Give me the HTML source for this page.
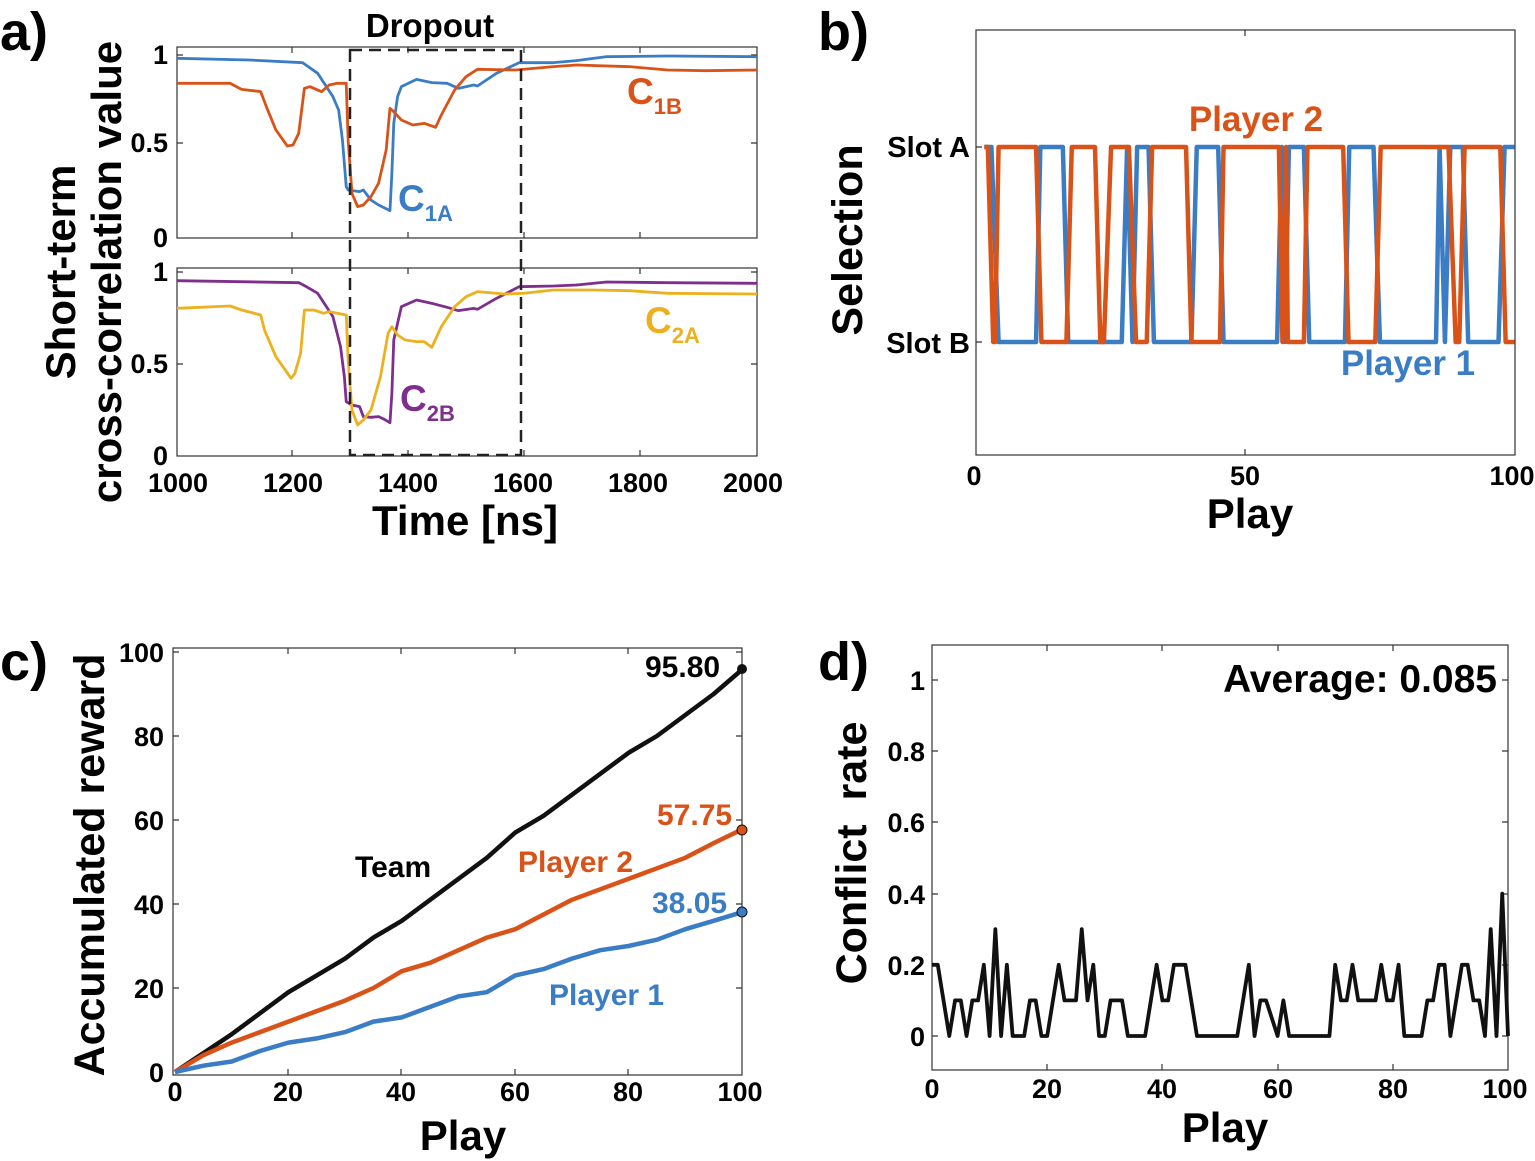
<!DOCTYPE html>
<html><head><meta charset="utf-8"><style>
html,body{margin:0;padding:0;background:#fff}
svg{display:block;font-family:"Liberation Sans",Arial,sans-serif;font-weight:bold}
.ln{fill:none;vector-effect:non-scaling-stroke;stroke-linejoin:round}
</style></head><body>
<svg width="1535" height="1161" viewBox="0 0 1535 1161" xmlns="http://www.w3.org/2000/svg">
<g font-size="54" fill="#000">
<text x="0" y="50">a)</text><text x="818" y="50">b)</text>
<text x="0" y="680">c)</text><text x="818" y="680">d)</text>
</g>

<!-- ===== Panel a ===== -->
<g stroke="#333" stroke-width="1.2" fill="none">
<rect x="177" y="47" width="580" height="191"/>
<rect x="177" y="268" width="580" height="188"/>
<path d="M292,238v-6M408,238v-6M524,238v-6M640,238v-6M292,47v6M408,47v6M524,47v6M640,47v6M177,143h6M757,143h-6M177,55h6M757,55h-6
M292,456v-6M408,456v-6M524,456v-6M640,456v-6M292,268v6M408,268v6M524,268v6M640,268v6M177,364h6M757,364h-6M177,272h6M757,272h-6"/>
</g>
<g transform="translate(173.2,40) scale(0.3803,0.3333)">
<polyline class="ln" stroke="#3A7DC4" stroke-width="2.8" points="10,55 200,60 340,68 380,100 420,170 435,210 445,300 455,440 460,450 490,455 500,450 520,480 540,495 570,512 575,400 580,250 590,170 600,140 640,118 680,128 720,130 750,145 790,135 800,138 850,100 910,68 1000,68 1060,62 1140,50 1300,48 1535,50"/>
<polyline class="ln" stroke="#D95319" stroke-width="2.8" points="10,130 150,130 180,148 230,155 245,200 270,270 300,318 315,315 330,280 345,145 360,140 390,155 410,135 430,130 455,130 460,300 470,460 485,500 500,495 520,470 540,430 560,330 570,205 580,215 600,240 630,255 660,250 690,262 705,225 740,150 770,110 800,88 900,90 1000,80 1060,75 1200,80 1300,90 1400,92 1535,90"/>
</g>
<g transform="translate(173.2,260) scale(0.3803,0.3333)">
<polyline class="ln" stroke="#7E2F8E" stroke-width="2.8" points="10,62 330,68 350,80 380,100 420,170 440,260 450,350 455,425 470,435 490,440 500,470 520,472 540,470 555,478 570,488 575,400 580,240 600,140 640,120 680,130 720,142 750,152 790,145 800,148 850,115 910,80 1000,78 1060,75 1140,66 1300,68 1535,70"/>
<polyline class="ln" stroke="#EDB120" stroke-width="2.8" points="10,145 150,138 180,150 230,165 240,210 270,290 310,355 320,340 335,280 345,150 370,150 395,160 410,155 455,165 460,300 470,450 485,495 500,480 520,450 545,350 565,220 575,200 590,225 610,240 640,245 660,245 680,262 705,200 740,140 770,110 800,95 870,102 920,100 1000,90 1100,90 1200,92 1300,100 1535,102"/>
</g>
<rect x="350" y="50" width="171" height="405" fill="none" stroke="#222" stroke-width="2.5" stroke-dasharray="12,7"/>
<text x="430" y="37" font-size="33" text-anchor="middle">Dropout</text>
<g font-size="27" text-anchor="end">
<text x="168" y="64">1</text><text x="168" y="152">0.5</text><text x="168" y="247">0</text>
<text x="168" y="281">1</text><text x="168" y="373">0.5</text><text x="168" y="465">0</text>
</g>
<g font-size="27" text-anchor="middle">
<text x="178" y="492">1000</text><text x="293" y="492">1200</text><text x="408" y="492">1400</text><text x="523" y="492">1600</text><text x="638" y="492">1800</text><text x="753" y="492">2000</text>
</g>
<text x="465" y="535" font-size="42" text-anchor="middle">Time [ns]</text>
<text transform="translate(75,272) rotate(-90)" font-size="42" text-anchor="middle">Short-term</text>
<text transform="translate(121,272) rotate(-90)" font-size="42" text-anchor="middle">cross-correlation value</text>
<g font-size="37"><text x="398" y="211" fill="#3A7DC4">C<tspan font-size="22" dy="10">1A</tspan></text>
<text x="627" y="104" fill="#D95319">C<tspan font-size="22" dy="10">1B</tspan></text>
<text x="645" y="333" fill="#EDB120">C<tspan font-size="22" dy="10">2A</tspan></text>
<text x="400" y="411" fill="#7E2F8E">C<tspan font-size="22" dy="10">2B</tspan></text></g>

<!-- ===== Panel b ===== -->
<g stroke="#333" stroke-width="1.2" fill="none">
<rect x="976" y="30" width="539" height="425"/>
<path d="M976,147h6M976,342h6M1515,147h-6M1515,342h-6M1245,455v-6M1245,30v6"/>
</g>
<g transform="translate(970,0) scale(0.3571,1)">
<polyline class="ln" stroke="#3A7DC4" stroke-width="4.5" points="40,147 60,147 80,342 185,342 197,147 260,147 275,342 425,342 440,147 455,342 468,147 500,147 515,342 620,342 635,147 695,147 710,342 860,342 873,147 882,342 893,147 935,147 950,342 1050,342 1062,147 1130,147 1148,342 1305,342 1315,147 1330,342 1345,147 1380,147 1395,342 1480,342 1497,147 1525,147"/>
<polyline class="ln" stroke="#D95319" stroke-width="4.5" points="40,147 50,147 65,342 70,342 80,147 185,147 200,342 270,342 285,147 350,147 365,342 375,342 395,147 445,147 465,342 495,342 510,147 605,147 620,342 700,342 710,147 865,147 875,342 885,147 890,342 900,342 935,342 945,147 1045,147 1060,342 1135,342 1150,147 1340,147 1360,342 1370,342 1385,147 1485,147 1500,342 1525,342"/>
</g>
<g font-size="29" text-anchor="end"><text x="970" y="157">Slot A</text><text x="970" y="353">Slot B</text></g>
<g font-size="27" text-anchor="middle"><text x="974" y="485">0</text><text x="1245" y="485">50</text><text x="1512" y="485">100</text></g>
<text x="1250" y="528" font-size="42" text-anchor="middle">Play</text>
<text transform="translate(862,240) rotate(-90)" font-size="43" text-anchor="middle">Selection</text>
<text x="1256" y="131" font-size="35" fill="#D95319" text-anchor="middle">Player 2</text>
<text x="1408" y="375" font-size="35" fill="#3A7DC4" text-anchor="middle">Player 1</text>

<!-- ===== Panel c ===== -->
<g stroke="#333" stroke-width="1.2" fill="none">
<rect x="173" y="648" width="569" height="427"/>
<path d="M173,988h6M173,904h6M173,820h6M173,736h6M173,652h6M742,988h-6M742,904h-6M742,820h-6M742,736h-6M742,652h-6M288,1075v-6M401,1075v-6M515,1075v-6M628,1075v-6M288,648v6M401,648v6M515,648v6M628,648v6"/>
</g>
<g transform="translate(175,1072) scale(5.67,-4.2)">
<polyline class="ln" stroke="#111" stroke-width="4.5" points="0,0 5,4.5 10,9 15,14 20,19 25,23 30,27 35,32 40,36 45,41 50,46 55,51 60,57 65,61 70,66 75,71 80,76 85,80 90,85 95,90 100,95.8"/>
<polyline class="ln" stroke="#D95319" stroke-width="4.5" points="0,0 5,4 10,7 15,9.5 20,12 25,14.5 30,17 35,20 40,24 45,26 50,29 55,32 60,34 65,37.5 70,41 75,43.5 80,46 85,48.5 90,51 95,54.5 100,57.75"/>
<polyline class="ln" stroke="#3A7DC4" stroke-width="4.5" points="0,0 5,1.5 10,2.5 15,5 20,7 25,8 30,9.5 35,12 40,13 45,15.5 50,18 55,19 60,23 65,24.5 70,27 75,29 80,30 85,31.5 90,34 95,36 100,38.05"/>
</g>
<circle cx="742" cy="669" r="5" fill="#111"/>
<circle cx="742" cy="830" r="5" fill="#D95319" stroke="#111" stroke-width="1"/>
<circle cx="742" cy="912" r="5" fill="#3A7DC4" stroke="#111" stroke-width="1"/>
<g font-size="27" text-anchor="end">
<text x="164" y="1082">0</text><text x="164" y="998">20</text><text x="164" y="914">40</text><text x="164" y="830">60</text><text x="164" y="746">80</text><text x="164" y="662">100</text>
</g>
<g font-size="27" text-anchor="middle">
<text x="175" y="1101">0</text><text x="288" y="1101">20</text><text x="401" y="1101">40</text><text x="515" y="1101">60</text><text x="628" y="1101">80</text><text x="740" y="1101">100</text>
</g>
<text x="463" y="1150" font-size="42" text-anchor="middle">Play</text>
<text transform="translate(104,865) rotate(-90)" font-size="43" text-anchor="middle">Accumulated reward</text>
<g font-size="30"><text x="645" y="677">95.80</text><text x="657" y="825" fill="#D95319">57.75</text><text x="652" y="913" fill="#3A7DC4">38.05</text>
<text x="355" y="877">Team</text><text x="518" y="872" fill="#D95319">Player 2</text><text x="549" y="1005" fill="#3A7DC4">Player 1</text></g>

<!-- ===== Panel d ===== -->
<g stroke="#333" stroke-width="1.2" fill="none">
<rect x="932" y="645" width="576" height="425"/>
<path d="M932,1036h6M932,965h6M932,894h6M932,822h6M932,751h6M932,680h6M1508,1036h-6M1508,965h-6M1508,894h-6M1508,822h-6M1508,751h-6M1508,680h-6M1047,1070v-6M1162,1070v-6M1278,1070v-6M1393,1070v-6M1047,645v6M1162,645v6M1278,645v6M1393,645v6"/>
</g>
<g transform="translate(932,1036) scale(5.76,-356)">
<polyline class="ln" stroke="#111" stroke-width="3.8" points="0,0.2 1,0.2 3,0 4,0.1 5,0.1 6,0 7,0.1 8,0.1 9,0.2 10,0 11,0.3 12,0 13,0.2 14,0 16,0 17,0.1 18,0.1 19,0 20,0 22,0.2 23,0.1 25,0.1 26,0.3 27,0.1 28,0.2 29,0 30,0 31,0.1 33,0.1 34,0 37,0 39,0.2 40,0.1 41,0.1 42,0.2 44,0.2 46,0 53,0 55,0.2 56,0 57,0.1 58,0.1 60,0 61,0.1 62,0 69,0 70,0.2 71,0.1 72,0.1 73,0.2 74,0.1 77,0.1 78,0.2 79,0.1 80,0.1 81,0.2 82,0 85,0 86,0.1 87,0.1 88,0.2 89,0.2 90,0 92,0.2 93,0.2 94,0.1 95,0.1 96,0 97,0.3 98,0 99,0.4 100,0"/>
</g>
<g font-size="27" text-anchor="end">
<text x="925" y="1046">0</text><text x="925" y="975">0.2</text><text x="925" y="904">0.4</text><text x="925" y="832">0.6</text><text x="925" y="761">0.8</text><text x="925" y="690">1</text>
</g>
<g font-size="27" text-anchor="middle">
<text x="932" y="1098">0</text><text x="1047" y="1098">20</text><text x="1162" y="1098">40</text><text x="1278" y="1098">60</text><text x="1393" y="1098">80</text><text x="1505" y="1098">100</text>
</g>
<text x="1225" y="1142" font-size="42" text-anchor="middle">Play</text>
<text transform="translate(866,853) rotate(-90)" font-size="43" text-anchor="middle" xml:space="preserve">Conflict  rate</text>
<text x="1497" y="692" font-size="39" text-anchor="end">Average: 0.085</text>
</svg>
</body></html>
